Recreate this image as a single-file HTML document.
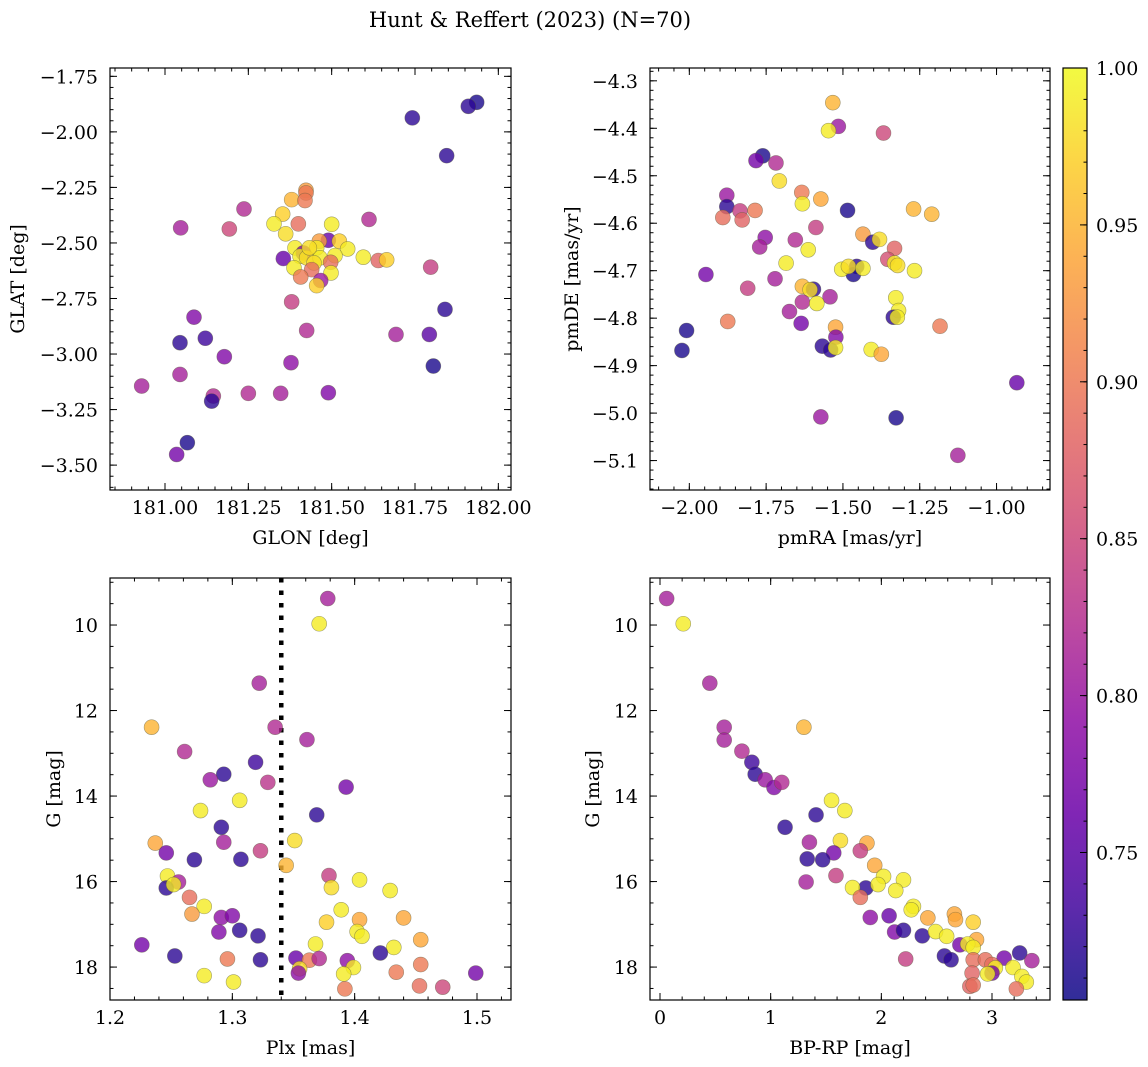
<!DOCTYPE html>
<html><head><meta charset="utf-8"><style>
html,body{margin:0;padding:0;background:#fff;}
svg{display:block;font-family:"DejaVu Serif","Liberation Serif",serif;}
</style></head><body>
<svg id="fig" width="1148" height="1067" viewBox="0 0 1148 1067" xmlns="http://www.w3.org/2000/svg">
<text x="530" y="27" font-size="21" text-anchor="middle">Hunt &amp; Reffert (2023) (N=70)</text>
</svg>
<script>
// Panel 1: GLON vs GLAT
const p1Lon=[181.935,181.910,181.742,181.845,181.423,181.423,181.380,181.420,181.237,181.353,181.047,181.193,181.327,181.400,181.500,181.612,181.362,181.490,181.463,181.523,181.390,181.548,181.455,181.415,181.355,181.405,181.425,181.465,181.510,181.595,181.640,181.665,181.497,181.447,181.387,181.440,181.407,181.498,181.467,181.455,181.797,181.380,181.840,181.087,181.425,181.693,181.793,181.121,181.045,181.178,181.378,181.805,181.045,180.930,181.145,181.140,181.250,181.347,181.490,181.067,181.035,181.433];
const p1Lat=[-1.867,-1.885,-1.937,-2.107,-2.263,-2.275,-2.305,-2.309,-2.347,-2.370,-2.432,-2.437,-2.414,-2.414,-2.416,-2.394,-2.459,-2.488,-2.492,-2.492,-2.522,-2.527,-2.522,-2.545,-2.570,-2.560,-2.567,-2.567,-2.557,-2.564,-2.579,-2.576,-2.587,-2.590,-2.612,-2.620,-2.653,-2.635,-2.669,-2.692,-2.609,-2.765,-2.799,-2.834,-2.894,-2.912,-2.912,-2.929,-2.949,-3.012,-3.039,-3.054,-3.092,-3.144,-3.189,-3.212,-3.177,-3.177,-3.174,-3.399,-3.452,-2.522];
const p1Prob=[0.71,0.72,0.72,0.72,0.93,0.90,0.95,0.90,0.82,0.97,0.81,0.85,0.99,0.89,0.99,0.82,0.98,0.76,0.93,0.97,0.99,0.99,0.99,0.78,0.76,0.99,0.98,0.99,0.99,0.99,0.88,0.97,0.89,0.98,0.99,0.89,0.90,0.99,0.80,0.97,0.84,0.84,0.72,0.78,0.82,0.81,0.75,0.73,0.72,0.78,0.79,0.71,0.81,0.81,0.82,0.72,0.82,0.81,0.78,0.71,0.77,0.98];
// Panel 2: pmRA vs pmDE
const p2Ra=[-1.533,-1.515,-1.547,-1.368,-1.761,-1.783,-1.718,-1.707,-1.634,-1.572,-1.632,-1.878,-1.878,-1.835,-1.786,-1.891,-1.828,-1.485,-1.270,-1.211,-1.588,-1.753,-1.771,-1.655,-1.435,-1.403,-1.381,-1.613,-1.332,-1.354,-1.332,-1.322,-1.685,-1.946,-1.455,-1.466,-1.504,-1.482,-1.435,-1.267,-1.721,-1.810,-1.632,-1.596,-1.607,-1.542,-1.632,-1.585,-1.328,-1.674,-1.319,-1.336,-1.323,-1.636,-1.875,-2.009,-2.024,-1.524,-1.523,-1.567,-1.540,-1.524,-1.408,-1.375,-1.184,-0.934,-1.572,-1.327,-1.126];
const p2De=[-4.346,-4.396,-4.405,-4.410,-4.458,-4.468,-4.473,-4.511,-4.535,-4.549,-4.559,-4.541,-4.565,-4.574,-4.573,-4.588,-4.593,-4.573,-4.570,-4.581,-4.609,-4.630,-4.650,-4.635,-4.623,-4.640,-4.634,-4.656,-4.653,-4.676,-4.684,-4.689,-4.684,-4.708,-4.691,-4.708,-4.697,-4.691,-4.695,-4.700,-4.717,-4.737,-4.733,-4.739,-4.740,-4.755,-4.766,-4.769,-4.757,-4.786,-4.784,-4.798,-4.798,-4.811,-4.807,-4.826,-4.868,-4.819,-4.840,-4.859,-4.867,-4.862,-4.866,-4.876,-4.817,-4.936,-5.008,-5.010,-5.089];
const p2Prob=[0.95,0.80,0.99,0.85,0.71,0.77,0.82,0.98,0.90,0.94,0.99,0.80,0.72,0.84,0.90,0.89,0.88,0.71,0.95,0.95,0.84,0.79,0.81,0.82,0.93,0.72,0.98,0.99,0.88,0.86,0.99,0.98,0.99,0.77,0.72,0.71,0.99,0.98,0.99,0.99,0.81,0.84,0.95,0.72,0.98,0.81,0.82,0.99,0.99,0.81,0.99,0.72,0.99,0.77,0.90,0.71,0.71,0.94,0.78,0.72,0.72,0.99,0.99,0.94,0.90,0.76,0.80,0.71,0.81];
// Panel 3: Plx vs G
const p3Plx=[1.378,1.371,1.322,1.234,1.335,1.361,1.261,1.319,1.293,1.282,1.329,1.393,1.306,1.274,1.369,1.291,1.351,1.237,1.293,1.323,1.246,1.269,1.307,1.344,1.379,1.404,1.429,1.247,1.256,1.246,1.252,1.381,1.265,1.277,1.267,1.389,1.291,1.300,1.404,1.440,1.377,1.402,1.406,1.289,1.306,1.321,1.454,1.226,1.368,1.432,1.421,1.253,1.296,1.323,1.352,1.363,1.371,1.394,1.454,1.399,1.355,1.354,1.434,1.499,1.391,1.277,1.301,1.453,1.472,1.392];
const p3G=[9.38,9.97,11.36,12.39,12.39,12.68,12.96,13.21,13.49,13.62,13.68,13.79,14.10,14.34,14.44,14.73,15.04,15.10,15.08,15.28,15.33,15.49,15.48,15.62,15.86,15.96,16.21,15.87,16.01,16.15,16.07,16.14,16.37,16.58,16.76,16.66,16.84,16.80,16.89,16.85,16.95,17.17,17.28,17.18,17.14,17.27,17.36,17.48,17.46,17.54,17.67,17.74,17.81,17.83,17.79,17.84,17.80,17.85,17.94,18.01,18.04,18.14,18.12,18.14,18.16,18.20,18.35,18.44,18.47,18.51];
const p3Prob=[0.81,0.99,0.81,0.95,0.82,0.81,0.82,0.73,0.72,0.80,0.83,0.77,0.99,0.99,0.72,0.72,0.98,0.94,0.81,0.84,0.77,0.72,0.72,0.95,0.84,0.99,0.99,0.99,0.81,0.72,0.99,0.98,0.89,0.99,0.93,0.99,0.79,0.78,0.94,0.94,0.97,0.99,0.99,0.78,0.72,0.72,0.94,0.77,0.99,0.99,0.72,0.72,0.90,0.72,0.76,0.90,0.82,0.79,0.90,0.99,0.98,0.79,0.90,0.77,0.99,0.99,0.99,0.89,0.85,0.90];
const plxLine=1.34;
// Panel 4: BP-RP vs G
const p4Col=[0.06,0.21,0.45,0.58,0.58,1.30,0.74,0.83,0.86,0.95,1.03,1.10,1.55,1.67,1.41,1.13,1.63,1.87,1.35,1.81,1.57,1.33,1.47,1.94,1.59,2.02,2.20,1.32,1.86,1.74,1.97,2.13,1.81,2.29,2.27,1.90,2.07,2.42,2.66,2.67,2.83,2.12,2.20,2.37,2.49,2.59,2.86,2.71,2.78,2.83,3.25,2.57,2.22,2.63,3.11,2.83,2.94,3.36,3.00,3.03,3.19,3.00,2.82,2.96,3.27,3.31,2.80,2.83,3.22];
const p4G=[9.38,9.97,11.36,12.39,12.69,12.39,12.95,13.21,13.49,13.62,13.80,13.68,14.10,14.34,14.44,14.73,15.04,15.10,15.08,15.28,15.33,15.47,15.49,15.62,15.86,15.88,15.96,16.01,16.15,16.14,16.07,16.21,16.37,16.58,16.66,16.84,16.80,16.85,16.76,16.89,16.95,17.18,17.14,17.27,17.17,17.28,17.36,17.48,17.46,17.54,17.67,17.74,17.81,17.83,17.79,17.83,17.83,17.85,17.94,18.02,18.01,18.14,18.14,18.16,18.22,18.35,18.45,18.42,18.51];
const p4Prob=[0.81,0.99,0.81,0.81,0.81,0.95,0.82,0.73,0.72,0.80,0.78,0.82,0.99,0.99,0.72,0.72,0.98,0.94,0.81,0.84,0.77,0.72,0.72,0.94,0.84,0.99,0.99,0.81,0.72,0.99,0.99,0.99,0.89,0.99,0.99,0.79,0.76,0.94,0.94,0.94,0.97,0.78,0.72,0.72,0.99,0.99,0.94,0.77,0.99,0.99,0.72,0.72,0.84,0.72,0.77,0.89,0.89,0.81,0.89,0.99,0.99,0.77,0.88,0.99,0.99,0.99,0.88,0.89,0.89];
const cbTicks=[0.75,0.80,0.85,0.90,0.95,1.00];
const probMin=0.703, probMax=1.0;

const NS="http://www.w3.org/2000/svg";
const svg=document.getElementById('fig');
function mk(tag,attrs,parent){const e=document.createElementNS(NS,tag);for(const k in attrs)e.setAttribute(k,attrs[k]);(parent||svg).appendChild(e);return e;}
const stops=[[13,8,135],[65,4,157],[106,0,168],[143,13,164],[177,42,144],[204,71,120],[225,100,98],[242,132,75],[252,166,54],[252,206,37],[240,249,33]];
function plasma(t){t=Math.max(0,Math.min(1,t));const f=t*10;const i=Math.min(9,Math.floor(f));const u=f-i;const a=stops[i],b=stops[i+1];return 'rgb('+a.map((v,k)=>Math.round(v+(b[k]-v)*u)).join(',')+')';}
function pc(p){return plasma((p-probMin)/(probMax-probMin));}
function fmtMinus(s){return s.replace('-','−');}
const FS=19;

function panel(c){
  const g=mk('g',{});
  
  
  const sx=v=>c.x0+(v-c.xmin)/(c.xmax-c.xmin)*(c.x1-c.x0);
  const sy=v=>c.y0+(v-c.ymin)/(c.ymax-c.ymin)*(c.y1-c.y0);
  const ticks=mk('g',{stroke:'#000','stroke-width':1},g);
  
  
  const lo=Math.min(c.xmin,c.xmax),hi=Math.max(c.xmin,c.xmax);
  for(let v=Math.ceil(lo/c.xmin_step-1e-6)*c.xmin_step;v<=hi+1e-9;v+=c.xmin_step){const x=sx(v);mk('line',{x1:x,x2:x,y1:c.y1,y2:c.y1-3.5},ticks);mk('line',{x1:x,x2:x,y1:c.y0,y2:c.y0+3.5},ticks);}
  const ylo=Math.min(c.ymin,c.ymax),yhi=Math.max(c.ymin,c.ymax);
  for(let v=Math.ceil(ylo/c.ymin_step-1e-6)*c.ymin_step;v<=yhi+1e-9;v+=c.ymin_step){const y=sy(v);mk('line',{x1:c.x0,x2:c.x0+3.5,y1:y,y2:y},ticks);mk('line',{x1:c.x1,x2:c.x1-3.5,y1:y,y2:y},ticks);}
  c.xt.forEach(v=>{const x=sx(v);mk('line',{x1:x,x2:x,y1:c.y1,y2:c.y1-7},ticks);mk('line',{x1:x,x2:x,y1:c.y0,y2:c.y0+7},ticks);
    const t=mk('text',{x:x,y:c.y1+24,'font-size':FS,'text-anchor':'middle'},g);t.textContent=fmtMinus(v.toFixed(c.xd));
    
    });
  c.yt.forEach(v=>{const y=sy(v);mk('line',{x1:c.x0,x2:c.x0+7,y1:y,y2:y},ticks);mk('line',{x1:c.x1,x2:c.x1-7,y1:y,y2:y},ticks);
    const t=mk('text',{x:c.x0-12,y:y+7,'font-size':FS,'text-anchor':'end'},g);t.textContent=fmtMinus(v.toFixed(c.yd));
    
    });
  const clip='clip-'+c.name;
  const cp=mk('clipPath',{id:clip},g);mk('rect',{x:c.x0,y:c.y0,width:c.x1-c.x0,height:c.y1-c.y0},cp);
  const pts=mk('g',{'clip-path':'url(#'+clip+')'},g);
  
  
  if(c.vline!==undefined){const l=mk('line',{x1:sx(c.vline),x2:sx(c.vline),y1:c.y0,y2:c.y1,stroke:'#000','stroke-width':4.5,'stroke-dasharray':'4.5,8'},pts);
    
    }
  for(let i=0;i<c.xs.length;i++){
    const p=mk('circle',{cx:sx(c.xs[i]),cy:sy(c.ys[i]),r:7.5,fill:pc(c.ps[i]),'fill-opacity':0.8,stroke:'rgba(90,90,60,0.55)','stroke-width':0.6},pts);
    
    
  }
  const fr=mk('rect',{x:c.x0,y:c.y0,width:c.x1-c.x0,height:c.y1-c.y0,fill:'none',stroke:'#000','stroke-width':1.2},g);
  
  
  const xl=mk('text',{x:(c.x0+c.x1)/2,y:c.y1+54,'font-size':FS,'text-anchor':'middle'},g);xl.textContent=c.xlabel;
  
  
  const yl=mk('text',{x:0,y:0,'font-size':FS,'text-anchor':'middle',transform:'translate('+c.ylx+','+(c.y0+c.y1)/2+') rotate(-90)'},g);yl.textContent=c.ylabel;
  
  
}
panel({name:'glon-glat-panel',x0:110,x1:511,y0:68,y1:490,xmin:180.835,xmax:182.038,ymin:-1.7125,ymax:-3.612,
  xt:[181,181.25,181.5,181.75,182],xd:2,xmin_step:0.05,yt:[-1.75,-2,-2.25,-2.5,-2.75,-3,-3.25,-3.5],yd:2,ymin_step:0.05,
  xs:p1Lon,ys:p1Lat,ps:p1Prob,xlabel:'GLON [deg]',ylabel:'GLAT [deg]',ylx:24});
panel({name:'pm-panel',x0:650,x1:1050,y0:68,y1:490,xmin:-2.128,xmax:-0.826,ymin:-4.273,ymax:-5.162,
  xt:[-2,-1.75,-1.5,-1.25,-1],xd:2,xmin_step:0.05,yt:[-4.3,-4.4,-4.5,-4.6,-4.7,-4.8,-4.9,-5.0,-5.1],yd:1,ymin_step:0.02,
  xs:p2Ra,ys:p2De,ps:p2Prob,xlabel:'pmRA [mas/yr]',ylabel:'pmDE [mas/yr]',ylx:578});
panel({name:'plx-g-panel',x0:110,x1:511,y0:578,y1:1000,xmin:1.2,xmax:1.5278,ymin:8.90,ymax:18.77,
  xt:[1.2,1.3,1.4,1.5],xd:1,xmin_step:0.02,yt:[10,12,14,16,18],yd:0,ymin_step:0.5,
  xs:p3Plx,ys:p3G,ps:p3Prob,vline:plxLine,xlabel:'Plx [mas]',ylabel:'G [mag]',ylx:60});
panel({name:'cmd-panel',x0:650,x1:1050,y0:578,y1:1000,xmin:-0.0904,xmax:3.524,ymin:8.90,ymax:18.77,
  xt:[0,1,2,3],xd:0,xmin_step:0.2,yt:[10,12,14,16,18],yd:0,ymin_step:0.5,
  xs:p4Col,ys:p4G,ps:p4Prob,xlabel:'BP-RP [mag]',ylabel:'G [mag]',ylx:599});

// colorbar
const cb=mk('g',{});


const defs=mk('defs',{},cb);
const lg=mk('linearGradient',{id:'cbg',x1:0,y1:1,x2:0,y2:0},defs);
for(let i=0;i<=20;i++){mk('stop',{offset:i/20,'stop-color':plasma(i/20),'stop-opacity':0.85},lg);}
const cbx=1063,cbw=24,cby0=68,cby1=1000;
mk('rect',{x:cbx,y:cby0,width:cbw,height:cby1-cby0,fill:'url(#cbg)',stroke:'#000','stroke-width':1.2},cb);
const cys=v=>cby1-(v-probMin)/(probMax-probMin)*(cby1-cby0);
for(let v=0.71;v<=1.0001;v+=0.01){const y=cys(v);mk('line',{x1:cbx+cbw,x2:cbx+cbw-3.5,y1:y,y2:y,stroke:'#000'},cb);}
cbTicks.forEach(v=>{const y=cys(v);mk('line',{x1:cbx+cbw,x2:cbx+cbw-7,y1:y,y2:y,stroke:'#000'},cb);
  const t=mk('text',{x:cbx+cbw+9,y:y+7,'font-size':FS},cb);t.textContent=v.toFixed(2);
  
  });
</script>
</body></html>
